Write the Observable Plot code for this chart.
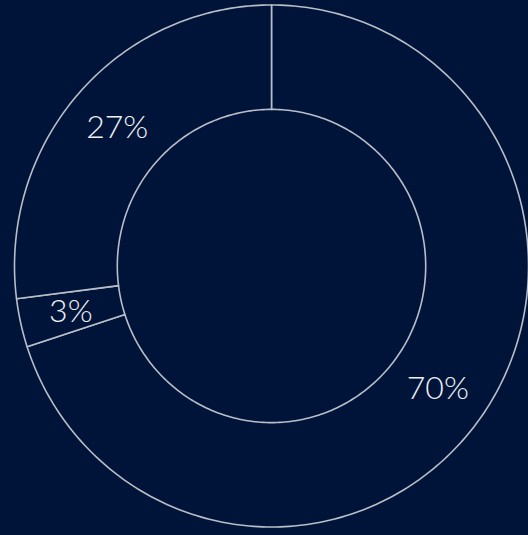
<!DOCTYPE html>
<html>
<head>
<meta charset="utf-8">
<script src="https://cdn.jsdelivr.net/npm/d3@7"></script>
<script src="https://cdn.jsdelivr.net/npm/@observablehq/plot@0.6"></script>
<style>
  html, body { margin: 0; padding: 0; background: #00143a; overflow: hidden; }
  svg { display: block; }
</style>
</head>
<body>
<div id="chart"></div>
<script>
// Data
const categories = ["A", "B", "C"];
const values = [70, 3, 27];
const labels = ["70%", "3%", "27%"];

const innerRatio = 0.6;
const labelRadius = 0.8;
const total = d3.sum(values);

// Build slice polygons (angles clockwise from 12 o'clock)
const polys = [];
const textRows = [];
let acc = 0;
values.forEach((v, i) => {
  const a0 = acc / total * 2 * Math.PI;
  acc += v;
  const a1 = acc / total * 2 * Math.PI;
  const n = Math.max(8, Math.ceil((a1 - a0) / (Math.PI / 180)));
  const pts = [];
  for (let k = 0; k <= n; k++) {
    const a = a0 + (a1 - a0) * k / n;
    pts.push({cat: categories[i], x: Math.sin(a), y: Math.cos(a)});
  }
  for (let k = n; k >= 0; k--) {
    const a = a0 + (a1 - a0) * k / n;
    pts.push({cat: categories[i], x: innerRatio * Math.sin(a), y: innerRatio * Math.cos(a)});
  }
  pts.push({...pts[0]});
  polys.push(...pts);
  const am = (a0 + a1) / 2;
  textRows.push({label: labels[i], x: labelRadius * Math.sin(am), y: labelRadius * Math.cos(am)});
});

const chart = Plot.plot({
  width: 528,
  height: 535,
  margin: 0,
  style: {background: "#00143a"},
  x: {domain: [-1, 1], range: [14, 528], axis: null},
  y: {domain: [-1, 1], range: [526.5, 4.5], axis: null},
  marks: [
    Plot.line(polys, {x: "x", y: "y", z: "cat", fill: "#00143a", stroke: "#b9bdc8", strokeWidth: 1.6, curve: "linear"}),
    Plot.text(textRows, {x: "x", y: "y", text: "label", fill: "#eef0f4", fontSize: 32, fontWeight: 300, fontFamily: "Lato, 'Open Sans', sans-serif"})
  ]
});
document.getElementById("chart").appendChild(chart);
</script>
</body>
</html>
